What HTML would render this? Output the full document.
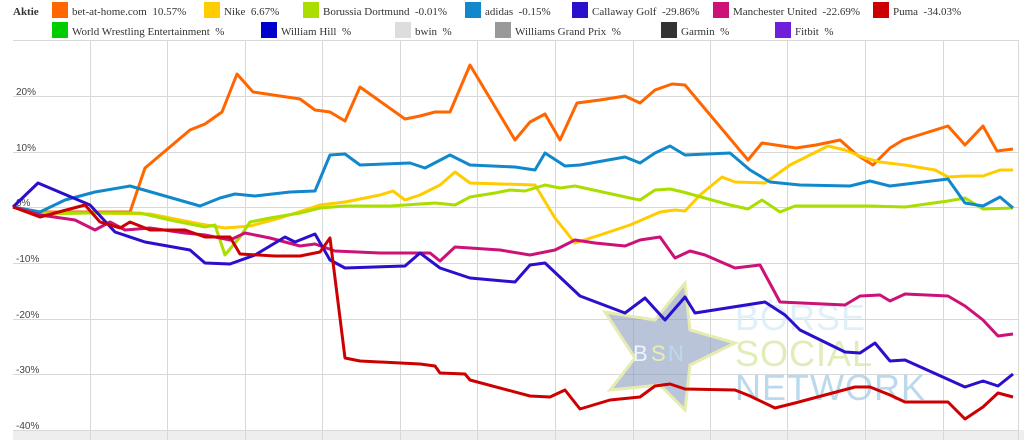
<!DOCTYPE html><html><head><style>
body{margin:0;width:1024px;height:440px;background:#fff;overflow:hidden;font-family:"Liberation Serif",serif;}
text{white-space:pre;}
</style></head><body>
<svg width="1024" height="440" xmlns="http://www.w3.org/2000/svg" style="position:absolute;left:0;top:0">
<g font-family="Liberation Serif, serif" font-size="11" fill="#333">
<text x="13" y="15" font-weight="bold">Aktie</text>
<rect x="52" y="2" width="16" height="16" fill="#ff6600"/><text x="72" y="15">bet-at-home.com  10.57%</text>
<rect x="204" y="2" width="16" height="16" fill="#ffcc00"/><text x="224" y="15">Nike  6.67%</text>
<rect x="303" y="2" width="16" height="16" fill="#aadd00"/><text x="323" y="15">Borussia Dortmund  -0.01%</text>
<rect x="465" y="2" width="16" height="16" fill="#1188cc"/><text x="485" y="15">adidas  -0.15%</text>
<rect x="572" y="2" width="16" height="16" fill="#2a0fcc"/><text x="592" y="15">Callaway Golf  -29.86%</text>
<rect x="713" y="2" width="16" height="16" fill="#cc1177"/><text x="733" y="15">Manchester United  -22.69%</text>
<rect x="873" y="2" width="16" height="16" fill="#cc0000"/><text x="893" y="15">Puma  -34.03%</text>
<rect x="52" y="22" width="16" height="16" fill="#00cc00"/><text x="72" y="35">World Wrestling Entertainment  %</text>
<rect x="261" y="22" width="16" height="16" fill="#0000cc"/><text x="281" y="35">William Hill  %</text>
<rect x="395" y="22" width="16" height="16" fill="#dddddd"/><text x="415" y="35">bwin  %</text>
<rect x="495" y="22" width="16" height="16" fill="#999999"/><text x="515" y="35">Williams Grand Prix  %</text>
<rect x="661" y="22" width="16" height="16" fill="#333333"/><text x="681" y="35">Garmin  %</text>
<rect x="775" y="22" width="16" height="16" fill="#6f1fd8"/><text x="795" y="35">Fitbit  %</text>
</g>
<rect x="13" y="430" width="1011" height="10" fill="#eeeeee"/>
<g stroke="#d8d8d8" stroke-width="1">
<line x1="13" y1="40.5" x2="1018" y2="40.5"/>
<line x1="13" y1="96.5" x2="1018" y2="96.5"/>
<line x1="13" y1="152.5" x2="1018" y2="152.5"/>
<line x1="13" y1="207.5" x2="1018" y2="207.5"/>
<line x1="13" y1="263.5" x2="1018" y2="263.5"/>
<line x1="13" y1="319.5" x2="1018" y2="319.5"/>
<line x1="13" y1="374.5" x2="1018" y2="374.5"/>
<line x1="13" y1="430.5" x2="1018" y2="430.5"/>
<line x1="90.5" y1="40" x2="90.5" y2="440"/><line x1="167.5" y1="40" x2="167.5" y2="440"/>
<line x1="245.5" y1="40" x2="245.5" y2="440"/><line x1="322.5" y1="40" x2="322.5" y2="440"/>
<line x1="400.5" y1="40" x2="400.5" y2="440"/><line x1="477.5" y1="40" x2="477.5" y2="440"/>
<line x1="555.5" y1="40" x2="555.5" y2="440"/><line x1="633.5" y1="40" x2="633.5" y2="440"/>
<line x1="710.5" y1="40" x2="710.5" y2="440"/><line x1="787.5" y1="40" x2="787.5" y2="440"/>
<line x1="865.5" y1="40" x2="865.5" y2="440"/><line x1="943.5" y1="40" x2="943.5" y2="440"/>
<line x1="1018.5" y1="40" x2="1018.5" y2="440"/>
</g>
<g font-family="Liberation Sans, sans-serif" font-size="10" fill="#444">
<text x="16" y="95">20%</text><text x="16" y="151">10%</text><text x="16" y="206">0%</text>
<text x="16" y="262">-10%</text><text x="16" y="318">-20%</text><text x="16" y="373">-30%</text><text x="16" y="429">-40%</text>
</g>
<polygon points="685,283 690,330 735,343 690,365 685,410 660,385 610,390 635,358 605,312 655,320" fill="#8a9cc0" fill-opacity="0.6" stroke="#e6ecb0" stroke-width="3"/>
<g font-family="Liberation Sans, sans-serif" font-size="22">
<text x="633" y="361" fill="#eef3ff">B</text><text x="651" y="361" fill="#e8eeb0">S</text><text x="668" y="361" fill="#bcd8ee">N</text>
</g>
<g font-family="Liberation Sans, sans-serif" font-size="36" letter-spacing="1">
<text x="735" y="330" fill="#d8ecf6" fill-opacity="0.8">BÖRSE</text>
<text x="735" y="366" fill="#d9e9a8" fill-opacity="0.8">SOCIAL</text>
<text x="735" y="400" fill="#a9d0e8" fill-opacity="0.8">NETWORK</text>
</g>
<g fill="none" stroke-width="3" stroke-linejoin="round">
<polyline stroke="#ff6600" points="13,207 40,212 90,212 130,212 145,168 190,130 205,124 222,112 237,74 253,92 300,99 315,110 330,112 345,121 360,87 405,119 420,116 435,112 450,112 470,65 515,140 530,122 545,114 560,140 577,103 600,100 625,96 640,103 655,90 672,84 685,85 748,160 762,143 796,148 816,145 840,140 857,155 873,165 890,148 903,140 948,126 965,145 983,126 997,151 1013,149"/>
<polyline stroke="#ffcc00" points="13,207 40,213 90,213 150,214 200,224 225,228 250,226 280,218 320,205 345,202 380,195 393,191 405,200 420,195 440,185 455,172 470,183 535,185 555,218 575,243 600,235 630,225 660,212 675,210 685,211 700,195 722,177 735,182 765,183 790,165 828,146 845,150 865,158 880,162 905,165 935,170 948,177 965,176 983,176 1000,170 1013,170"/>
<polyline stroke="#aadd00" points="13,207 40,214 90,213 140,213 170,220 205,227 215,225 225,255 240,237 250,222 270,218 300,213 320,208 345,206 390,206 435,203 455,205 470,197 495,193 510,190 525,191 535,188 545,185 560,188 575,186 630,198 640,200 655,190 670,189 683,192 730,205 748,209 762,200 780,212 795,206 870,206 905,207 948,201 965,198 983,209 1013,208"/>
<polyline stroke="#1188cc" points="13,207 40,212 65,200 95,192 130,186 200,206 220,198 235,194 255,196 290,192 315,191 330,155 345,154 360,165 410,163 425,168 450,155 470,165 515,167 535,170 545,153 565,166 580,165 625,157 640,163 655,153 670,146 685,155 730,153 750,170 770,182 800,185 850,186 870,181 890,186 948,179 965,203 983,206 1000,197 1013,208"/>
<polyline stroke="#cc1177" points="13,207 40,215 75,220 95,230 110,222 125,230 150,228 185,233 205,235 230,240 245,233 270,238 300,246 315,244 335,251 380,253 430,253 440,261 455,247 470,248 500,250 530,255 555,250 575,240 595,243 625,246 640,240 660,237 675,258 690,251 705,255 735,268 760,265 780,302 845,305 860,296 880,295 890,301 905,294 948,296 965,306 983,320 998,336 1013,334"/>
<polyline stroke="#2a0fcc" points="13,207 38,183 90,205 115,232 145,242 190,250 205,263 230,264 255,255 285,237 295,242 315,234 330,260 345,268 405,266 420,253 440,268 470,278 515,282 530,265 545,263 580,296 625,313 645,298 665,320 685,297 695,313 765,302 785,315 800,330 845,352 860,353 875,343 890,361 905,360 965,387 983,381 998,386 1013,374"/>
<polyline stroke="#cc0000" points="13,207 40,217 85,205 100,222 120,228 130,222 150,230 185,230 205,237 230,237 240,254 275,256 300,256 320,252 330,238 345,358 360,361 420,364 435,366 440,373 465,374 470,380 530,396 550,397 565,390 580,409 610,400 630,398 640,397 655,386 670,384 685,389 735,390 750,396 775,408 795,403 855,387 870,387 890,395 905,402 948,402 965,419 983,407 998,393 1013,397"/>
</g>
</svg>
</body></html>
